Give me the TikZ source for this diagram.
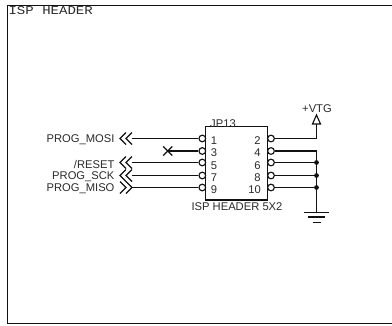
\documentclass[tikz,border=0pt]{standalone}
\usepackage{fontspec}
\setmainfont{Liberation Sans}
\newfontfamily\titlefont[FakeStretch=1.17]{Liberation Mono}
\usepackage{xcolor}
\usepackage{tikz}
\usetikzlibrary{positioning, arrows.meta}
\definecolor{wirecol}{HTML}{111111}
\definecolor{textcol}{HTML}{2A2A2A}

\begin{document}
\begin{tikzpicture}[x=0.75pt,y=-0.75pt,line width=0.85pt,draw=wirecol,text=textcol,font=\fontsize{8.4}{10}\selectfont,inner sep=0pt]
\tikzset{hdrbox/.style={draw,minimum width=46.2pt,minimum height=55pt},
  pinhole/.style={draw,fill=white,circle,minimum size=5pt},
  netname/.style={anchor=east},
  junction/.style={fill=wirecol,circle,minimum size=3.6pt},
  chevin/.pic={\draw (0,-6) -- (-6,0) -- (0,6) (6,-6) -- (0,0) -- (6,6);},
  chevout/.pic={\draw (-6,-6) -- (0,0) -- (-6,6) (0,-6) -- (6,0) -- (0,6);}}
\useasboundingbox (0,0) rectangle (392,325);
\draw (392,5.5) -- (7.5,5.5) -- (7.5,323.5) -- (392,323.5);
\node[anchor=base west,font=\fontsize{9}{10}\titlefont] (title) at (8,14.5) {ISP HEADER};

\node[hdrbox] (hdr) at (236.5,163.3) {};
\node (jp) at (223,123.5) {JP13};
\node (part) at (237,207) {ISP HEADER 5X2};

% left pins
\node[pinhole] (p1) at (202.3,138.5) {};
\node[pinhole] (p3) at (202.3,151) {};
\node[pinhole] (p5) at (202.3,162.5) {};
\node[pinhole] (p7) at (202.3,175.5) {};
\node[pinhole] (p9) at (202.3,187.5) {};
\node (n1) at (214,141) {1};
\node (n3) at (214,153) {3};
\node (n5) at (214,165.5) {5};
\node (n7) at (214,177.5) {7};
\node (n9) at (214,190) {9};

% right pins
\node[pinhole] (p2) at (271,138.5) {};
\node[pinhole] (p4) at (271,151) {};
\node[pinhole] (p6) at (271,162.5) {};
\node[pinhole] (p8) at (271,175.5) {};
\node[pinhole] (p10) at (271,187.5) {};
\node (n2) at (257.5,141) {2};
\node (n4) at (257.5,153) {4};
\node (n6) at (257.5,165.5) {6};
\node (n8) at (257.5,177.5) {8};
\node (n10) at (254.5,190) {10};

% nets on the left
\node[netname] (mosi) at (115,139.5) {PROG\_MOSI};
\node[netname] (rst) at (115,164) {/RESET};
\node[netname] (sck) at (115,176.5) {PROG\_SCK};
\node[netname] (miso) at (115,189) {PROG\_MISO};
\pic at (126,138.5) {chevin};
\pic at (126,162.5) {chevin};
\pic at (126,175.5) {chevin};
\pic at (126,187.5) {chevout};
\coordinate (mosiend) at (132,138.5);
\coordinate (rstend) at (132,162.5);
\coordinate (sckend) at (132,175.5);
\coordinate (misoend) at (132,187.5);
\node[minimum size=6pt] (nc) at (167.7,151) {};
\draw (nc.north west) -- (nc.south east) (nc.south west) -- (nc.north east);

\draw (mosiend) -- (p1);
\draw (nc.center) -- (p3);
\draw (rstend) -- (p5);
\draw (sckend) -- (p7);
\draw (misoend) -- (p9);

% supply and ground
\node (vtg) at (317,109) {+VTG};
\coordinate (vtgtip) at (316.5,115);
\coordinate (vtgbase) at (316.5,124);
\draw (vtgtip) -- ++(4,9) -- ++(-8,0) -- cycle;
\coordinate (gnd) at (316.5,212.5);
\node[junction] (j6) at (316.5,162.5) {};
\node[junction] (j8) at (316.5,175.5) {};
\node[junction] (j10) at (316.5,187.5) {};
\draw (p2) -| (vtgbase);
\draw (p4) -| (j6);
\draw (p6) -- (j6);
\draw (p8) -- (j8);
\draw (p10) -- (j10);
\draw (j6) -- (j8);
\draw (j8) -- (j10);
\draw (j10) -- (gnd);
\draw (gnd) ++(-12.5,0) -- ++(25,0);
\draw (gnd) ++(-8.5,4.5) -- ++(17,0);
\draw (gnd) ++(-4,10) -- ++(8,0);
\end{tikzpicture}
\end{document}
